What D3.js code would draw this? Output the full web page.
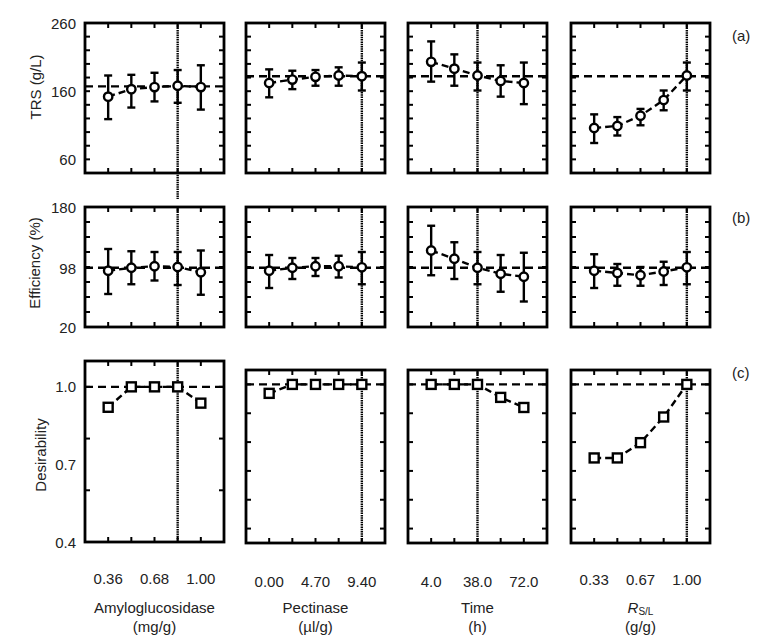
<!DOCTYPE html>
<html><head><meta charset="utf-8">
<script src="https://cdn.jsdelivr.net/npm/d3@7"></script>
<style>
body{margin:0;background:#fff;}
text{font-family:"Liberation Sans",Arial,sans-serif;fill:#222;}
</style></head>
<body><svg id="c" width="773" height="636"></svg>
<script>
// ---------- data ----------
const factorNames = ["Amyloglucosidase", "Pectinase", "Time", "R"];
const factorUnits = ["(mg/g)", "(\u00b5l/g)", "(h)", "(g/g)"];
const levelIndex = [0, 1, 2, 3, 4];
const xTickIdx = [0, 2, 4];
const xTickLabels = [["0.36", "0.68", "1.00"], ["0.00", "4.70", "9.40"], ["4.0", "38.0", "72.0"], ["0.33", "0.67", "1.00"]];
const optimumIdx = [3, 4, 2, 4];

const trsMean = [[152, 163, 166, 168, 166], [172, 177, 181, 183, 182], [203, 193, 183, 175, 172], [106, 109, 124, 147, 183]];
const trsLow  = [[119, 136, 145, 143, 133], [151, 163, 168, 168, 161], [174, 168, 161, 152, 141], [84, 95, 110, 132, 161]];
const trsHigh = [[183, 184, 187, 191, 198], [192, 190, 191, 195, 202], [233, 214, 202, 198, 202], [126, 122, 134, 161, 202]];
const trsRef = [167, 182, 182, 182];

const effMean = [[95, 99, 101, 100, 93], [95, 99, 101, 101, 99.6], [122, 111, 99, 91, 87], [95, 92, 89, 94, 99.6]];
const effLow  = [[64, 77, 82, 76, 63], [72, 84, 88, 86, 77], [89, 84, 77, 67, 54], [72, 75, 75, 76, 77]];
const effHigh = [[124, 121, 120, 120, 122], [116, 112, 112, 115, 120], [155, 133, 120, 116, 119], [117, 104, 100, 107, 120]];
const effRef = [99, 99, 99, 99];

const desMean = [[0.921, 1, 1, 1, 0.937], [0.969, 1, 1, 1, 1], [1, 1, 1, 0.955, 0.920], [0.745, 0.745, 0.798, 0.887, 1]];
const desRef = [1, 1, 1, 1];

const trsDomain = [40, 260], trsTicks = d3.range(40, 261, 20), trsLabels = [60, 160, 260];
const effDomain = [20, 180], effTicks = d3.range(20, 181, 20), effLabels = [20, 98, 180];
const desDomains = [[0.4, 1.1], [0.45, 1.05], [0.45, 1.05], [0.45, 1.05]];
const desTicks = [[0.4, 0.6, 0.8, 1.0], [0.5, 0.6, 0.7, 0.8, 0.9, 1.0], [0.5, 0.6, 0.7, 0.8, 0.9, 1.0], [0.5, 0.6, 0.7, 0.8, 0.9, 1.0]];
const desLabels = [0.4, 0.7, 1.0];

// ---------- layout ----------
const svg = d3.select("#c");
const colX = [85, 246, 408, 571], panelW = 139;
const rows = [
  {key: "a", tops: [23, 23, 23, 23], bots: [173, 173, 173, 173], label: "TRS (g/L)", lx: 35, ly: 87, ly2: 35},
  {key: "b", tops: [207, 207, 207, 207], bots: [327, 327, 327, 327], label: "Efficiency (%)", lx: 34, ly: 263, ly2: 217},
  {key: "c", tops: [361, 370, 370, 370], bots: [542, 543, 543, 543], label: "Desirability", lx: 40, ly: 455, ly2: 372}
];

function panel(ri, ci, cfg) {
  const x0 = colX[ci], top = rows[ri].tops[ci], bot = rows[ri].bots[ci];
  const x = d3.scaleLinear().domain([-1, 5]).range([x0, x0 + panelW]);
  const y = d3.scaleLinear().domain(cfg.domain).range([bot, top]);
  const g = svg.append("g");
  const ox = x(optimumIdx[ci]);
  g.append("line").attr("x1", ox).attr("x2", ox).attr("y1", top).attr("y2", bot + (cfg.extend || 0))
    .attr("stroke", "#000").attr("stroke-width", 2.4).attr("stroke-dasharray", "1.5,0.8");
  g.append("line").attr("x1", x0).attr("x2", x0 + panelW).attr("y1", y(cfg.ref)).attr("y2", y(cfg.ref))
    .attr("stroke", "#000").attr("stroke-width", 2.4).attr("stroke-dasharray", "8,5");
  const tl = 5;
  cfg.ticks.forEach(t => {
    const ty = y(t);
    g.append("line").attr("x1", x0).attr("x2", x0 + tl).attr("y1", ty).attr("y2", ty).attr("stroke", "#000").attr("stroke-width", 2);
    g.append("line").attr("x1", x0 + panelW - tl).attr("x2", x0 + panelW).attr("y1", ty).attr("y2", ty).attr("stroke", "#000").attr("stroke-width", 2);
  });
  levelIndex.forEach(i => {
    const tx = x(i);
    g.append("line").attr("x1", tx).attr("x2", tx).attr("y1", top).attr("y2", top + tl).attr("stroke", "#000").attr("stroke-width", 2);
    g.append("line").attr("x1", tx).attr("x2", tx).attr("y1", bot - tl).attr("y2", bot).attr("stroke", "#000").attr("stroke-width", 2);
  });
  const line = d3.line().x((d, i) => x(i)).y(d => y(d));
  g.append("path").attr("d", line(cfg.mean)).attr("fill", "none").attr("stroke", "#000")
    .attr("stroke-width", 2.4).attr("stroke-dasharray", "7,4");
  if (cfg.low) {
    levelIndex.forEach(i => {
      const cx = x(i);
      g.append("line").attr("x1", cx).attr("x2", cx).attr("y1", y(cfg.low[i])).attr("y2", y(cfg.high[i])).attr("stroke", "#000").attr("stroke-width", 2.4);
      [cfg.low[i], cfg.high[i]].forEach(v => {
        g.append("line").attr("x1", cx - 4).attr("x2", cx + 4).attr("y1", y(v)).attr("y2", y(v)).attr("stroke", "#000").attr("stroke-width", 2.4);
      });
    });
  }
  levelIndex.forEach(i => {
    if (cfg.square) {
      g.append("rect").attr("x", x(i) - 4.5).attr("y", y(cfg.mean[i]) - 4.5).attr("width", 9).attr("height", 9)
        .attr("fill", "#fff").attr("stroke", "#000").attr("stroke-width", 2.4);
    } else {
      g.append("circle").attr("cx", x(i)).attr("cy", y(cfg.mean[i])).attr("r", 4.2)
        .attr("fill", "#fff").attr("stroke", "#000").attr("stroke-width", 2.4);
    }
  });
  g.append("rect").attr("x", x0).attr("y", top).attr("width", panelW).attr("height", bot - top)
    .attr("fill", "none").attr("stroke", "#000").attr("stroke-width", 2.8);
  if (ci === 0) {
    cfg.labels.forEach(v => {
      g.append("text").attr("x", 76).attr("y", y(v)).attr("text-anchor", "end").attr("dominant-baseline", "central")
        .attr("font-size", 15).text(cfg.fmt(v));
    });
  }
  if (cfg.xlabels) {
    xTickIdx.forEach((ti, k) => {
      g.append("text").attr("x", x(ti)).attr("y", cfg.xly).attr("text-anchor", "middle").attr("dominant-baseline", "central")
        .attr("font-size", 15).text(xTickLabels[ci][k]);
    });
    const cxm = x0 + panelW / 2;
    const t1 = g.append("text").attr("x", cxm).attr("y", 607).attr("text-anchor", "middle").attr("dominant-baseline", "central").attr("font-size", 15);
    if (ci === 3) {
      t1.append("tspan").attr("font-style", "italic").text("R");
      t1.append("tspan").attr("font-size", 10).attr("dy", 4).text("S/L");
    } else {
      t1.text(factorNames[ci]);
    }
    g.append("text").attr("x", cxm).attr("y", 626).attr("text-anchor", "middle").attr("dominant-baseline", "central")
      .attr("font-size", 15).text(factorUnits[ci]);
  }
}

const xLabelY = [578, 581, 581, 579];
for (let ci = 0; ci < 4; ci++) {
  panel(0, ci, {domain: trsDomain, ticks: trsTicks, labels: trsLabels, fmt: d => d, ref: trsRef[ci], mean: trsMean[ci], low: trsLow[ci], high: trsHigh[ci], extend: ci === 0 ? 26 : 0});
  panel(1, ci, {domain: effDomain, ticks: effTicks, labels: effLabels, fmt: d => d, ref: effRef[ci], mean: effMean[ci], low: effLow[ci], high: effHigh[ci]});
  panel(2, ci, {domain: desDomains[ci], ticks: desTicks[ci], labels: desLabels, fmt: d3.format(".1f"), ref: desRef[ci], mean: desMean[ci], square: true, xlabels: true, xly: xLabelY[ci]});
}

rows.forEach(r => {
  svg.append("text").attr("transform", `translate(${r.lx},${r.ly}) rotate(-90)`).attr("text-anchor", "middle")
    .attr("dominant-baseline", "central").attr("font-size", 15).text(r.label);
  svg.append("text").attr("x", 732).attr("y", r.ly2).attr("dominant-baseline", "central").attr("font-size", 15).text(`(${r.key})`);
});
</script></body></html>
